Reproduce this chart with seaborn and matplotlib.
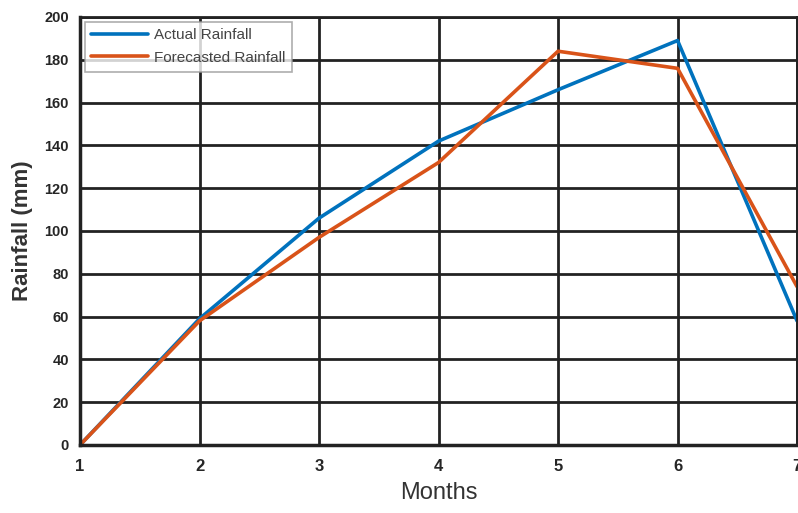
import matplotlib
matplotlib.use("Agg")
import matplotlib.pyplot as plt
import seaborn as sns
import pandas as pd

months = [1, 2, 3, 4, 5, 6, 7]
actual_rainfall = [0, 59, 106, 142, 166, 189, 58]
forecasted_rainfall = [0, 58, 97, 132, 184, 176, 74]
series_names = ["Actual Rainfall", "Forecasted Rainfall"]
y_ticks = [0, 20, 40, 60, 80, 100, 120, 140, 160, 180, 200]

df = pd.DataFrame({
    "Months": months * 2,
    "Rainfall": actual_rainfall + forecasted_rainfall,
    "Series": [series_names[0]] * len(months) + [series_names[1]] * len(months),
})

sns.set_style("white")
plt.rcParams["font.family"] = ["Liberation Sans", "DejaVu Sans"]

fig = plt.figure(figsize=(7.98, 5.13), dpi=100)
ax = fig.add_axes([0.1003, 0.1326, 0.8985, 0.8343])

sns.lineplot(data=df, x="Months", y="Rainfall", hue="Series",
             palette=["#0072BD", "#D95319"], linewidth=2.6, ax=ax,
             legend=True)

ax.set_xlim(1, 7)
ax.set_ylim(0, 200)
ax.set_xticks(months)
ax.set_yticks(y_ticks)
ax.set_xticklabels([str(m) for m in months], fontweight="bold", fontsize=12)
ax.set_yticklabels([str(t) for t in y_ticks], fontweight="bold", fontsize=10.5)
ax.tick_params(axis="both", length=3, width=1.5, color="#222222", pad=5)
ax.tick_params(axis="x", pad=7)

ax.grid(True, color="#222222", linewidth=2.0)
ax.set_axisbelow(True)
for side in ["left", "bottom"]:
    ax.spines[side].set_color("#222222")
    ax.spines[side].set_linewidth(2.5)
for side in ["top", "right"]:
    ax.spines[side].set_color("#222222")
    ax.spines[side].set_linewidth(2.0)

ax.set_xlabel("Months", fontsize=17, color="#333333", labelpad=6)
ax.set_ylabel("Rainfall (mm)", fontsize=16, fontweight="bold", color="#333333", labelpad=8)

leg = ax.legend(loc="upper left", fontsize=11, frameon=True, fancybox=False,
                edgecolor="#999999", borderaxespad=0.3, handlelength=3.7,
                handletextpad=0.4, labelspacing=0.55, borderpad=0.45)
leg.get_frame().set_linewidth(1.2)
for t in leg.get_texts():
    t.set_color("#444444")
for line in leg.get_lines():
    line.set_linewidth(2.6)

fig.savefig("out.png", dpi=100)
